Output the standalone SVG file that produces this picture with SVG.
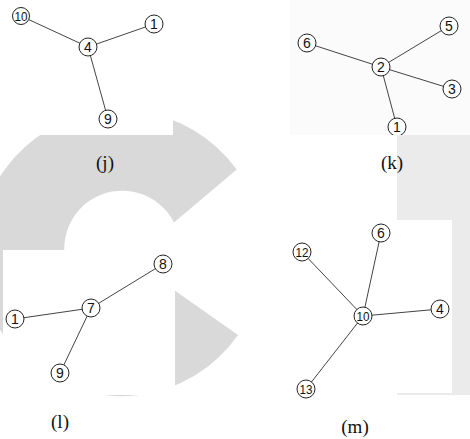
<svg xmlns="http://www.w3.org/2000/svg" width="470" height="439" viewBox="0 0 470 439">
<defs>
<style>
.wm{fill:#d9d9d9;stroke:none}
.wm2{fill:#ebebeb;stroke:none}
.panel{fill:#ffffff;stroke:none}
.e line{stroke:#444;stroke-width:1}
.n circle{fill:#fff;stroke:#222;stroke-width:1}
.n text{font-family:"Liberation Sans",Arial,sans-serif;font-size:14px;fill:#111;text-anchor:middle}
.n text.d2{font-size:13px}
.cap{font-family:"Liberation Serif","Times New Roman",serif;font-size:19px;fill:#111;text-anchor:middle}
</style>
<clipPath id="clipK"><rect x="240" y="0" width="230" height="135"/></clipPath>
</defs>
<rect width="470" height="439" fill="#ffffff"/>
<!-- watermark -->
<path class="wm" d="M236.7,169.5 A143,143 0 1 0 238,335 L167.3,285.2 A58,58 0 1 1 174,222.5 Z"/>
<rect class="wm2" x="397" y="135" width="73" height="260"/>
<!-- panels -->
<rect class="panel" x="0" y="0" width="173" height="135"/>
<rect x="290" y="0" width="180" height="135" fill="#fbfbfb"/>
<rect class="panel" x="3" y="250" width="172" height="145"/>
<rect class="panel" x="240" y="220" width="212" height="173"/>

<!-- (j) -->
<g id="graph-j">
<g class="e" id="edges-j">
<line x1="21" y1="16" x2="88" y2="47"/>
<line x1="154" y1="24" x2="88" y2="47"/>
<line x1="88" y1="47" x2="108" y2="119"/>
</g>
<g class="n" id="j-10"><circle cx="21" cy="16" r="8.5"/><text class="d2" x="21" y="20.5" textLength="13" lengthAdjust="spacingAndGlyphs">10</text></g>
<g class="n" id="j-1"><circle cx="154" cy="24" r="9"/><text x="154" y="29">1</text></g>
<g class="n" id="j-4"><circle cx="88" cy="47" r="9"/><text x="88" y="52">4</text></g>
<g class="n" id="j-9"><circle cx="108" cy="119" r="9"/><text x="108" y="124">9</text></g>
</g>
<text class="cap" x="105" y="169">(j)</text>

<!-- (k) -->
<g id="graph-k" clip-path="url(#clipK)">
<g class="e" id="edges-k">
<line x1="307" y1="43" x2="381" y2="67"/>
<line x1="449" y1="26" x2="381" y2="67"/>
<line x1="452" y1="89" x2="381" y2="67"/>
<line x1="381" y1="67" x2="397" y2="127"/>
</g>
<g class="n" id="k-5"><circle cx="449" cy="26" r="9"/><text x="449" y="31">5</text></g>
<g class="n" id="k-6"><circle cx="307" cy="43" r="9"/><text x="307" y="48">6</text></g>
<g class="n" id="k-2"><circle cx="381" cy="67" r="9"/><text x="381" y="72">2</text></g>
<g class="n" id="k-3"><circle cx="452" cy="89" r="9"/><text x="452" y="94">3</text></g>
<g class="n" id="k-1"><circle cx="397" cy="127" r="9"/><text x="397" y="132">1</text></g>
</g>
<text class="cap" x="392" y="169">(k)</text>

<!-- (l) -->
<g id="graph-l">
<g class="e" id="edges-l">
<line x1="163" y1="264" x2="91" y2="308"/>
<line x1="15" y1="319" x2="91" y2="308"/>
<line x1="91" y1="308" x2="60" y2="373"/>
</g>
<g class="n" id="l-8"><circle cx="163" cy="264" r="9"/><text x="163" y="269">8</text></g>
<g class="n" id="l-7"><circle cx="91" cy="308" r="9"/><text x="91" y="313">7</text></g>
<g class="n" id="l-1"><circle cx="15" cy="319" r="9"/><text x="15" y="324">1</text></g>
<g class="n" id="l-9"><circle cx="60" cy="373" r="9"/><text x="60" y="378">9</text></g>
</g>
<text class="cap" x="60" y="428">(l)</text>

<!-- (m) -->
<g id="graph-m">
<g class="e" id="edges-m">
<line x1="381" y1="233" x2="363" y2="316"/>
<line x1="302" y1="252" x2="363" y2="316"/>
<line x1="440" y1="309" x2="363" y2="316"/>
<line x1="306" y1="389" x2="363" y2="316"/>
</g>
<g class="n" id="m-6"><circle cx="381" cy="233" r="9"/><text x="381" y="238">6</text></g>
<g class="n" id="m-12"><circle cx="302" cy="252" r="9"/><text class="d2" x="302" y="256.5" textLength="13" lengthAdjust="spacingAndGlyphs">12</text></g>
<g class="n" id="m-10"><circle cx="363" cy="316" r="9"/><text class="d2" x="363" y="320.5" textLength="13" lengthAdjust="spacingAndGlyphs">10</text></g>
<g class="n" id="m-4"><circle cx="440" cy="309" r="9"/><text x="440" y="314">4</text></g>
<g class="n" id="m-13"><circle cx="306" cy="389" r="9"/><text class="d2" x="306" y="393.5" textLength="13" lengthAdjust="spacingAndGlyphs">13</text></g>
</g>
<text class="cap" x="355" y="433">(m)</text>
</svg>
